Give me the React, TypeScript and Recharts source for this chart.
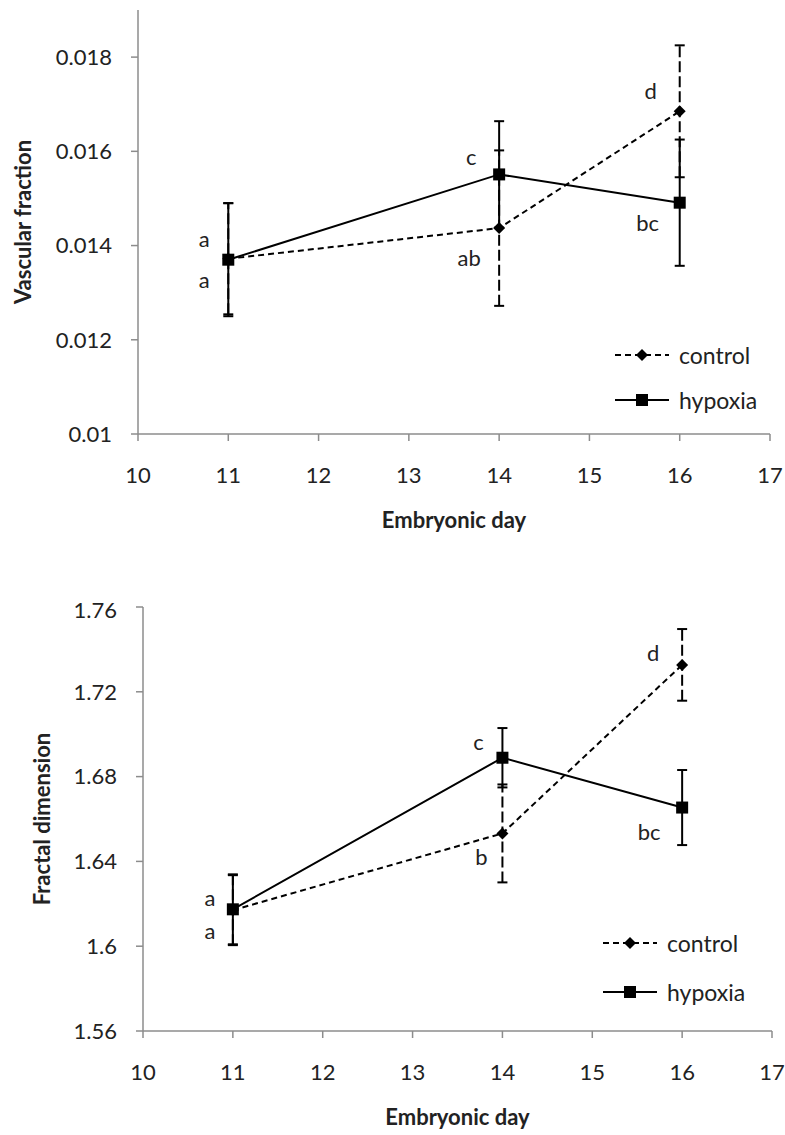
import React from "react";
import { LineChart, Line, XAxis, YAxis, ErrorBar, LabelList, Legend } from "recharts";

const days = [11, 14, 16];
const xTicks = [10, 11, 12, 13, 14, 15, 16, 17];

// vascular fraction
const vfControl = [0.01372, 0.01437, 0.01685];
const vfControlErr = [0.00118, 0.00165, 0.0014];
const vfHypoxia = [0.0137, 0.01551, 0.01491];
const vfHypoxiaErr = [0.0012, 0.00113, 0.00134];
const vfControlLetters = ["a", "ab", "d"];
const vfHypoxiaLetters = ["a", "c", "bc"];
const vfTicks = [0.01, 0.012, 0.014, 0.016, 0.018];

// fractal dimension
const fdControl = [1.617, 1.6532, 1.7327];
const fdControlErr = [0.0165, 0.0231, 0.0169];
const fdHypoxia = [1.6174, 1.6889, 1.6654];
const fdHypoxiaErr = [0.0165, 0.014, 0.0177];
const fdControlLetters = ["a", "b", "d"];
const fdHypoxiaLetters = ["a", "c", "bc"];
const fdTicks = [1.56, 1.6, 1.64, 1.68, 1.72, 1.76];

const FONT = "Lato, 'Noto Sans', sans-serif";
const TEXT = "#222";
const AXIS = "#8c8c8c";

const buildRows = (c, ce, cl, h, he, hl) =>
  days.map((day, i) => ({
    day,
    control: c[i],
    controlErr: ce[i],
    controlLetter: cl[i],
    hypoxia: h[i],
    hypoxiaErr: he[i],
    hypoxiaLetter: hl[i],
  }));

const vfRows = buildRows(vfControl, vfControlErr, vfControlLetters, vfHypoxia, vfHypoxiaErr, vfHypoxiaLetters);
const fdRows = buildRows(fdControl, fdControlErr, fdControlLetters, fdHypoxia, fdHypoxiaErr, fdHypoxiaLetters);

const Diamond = (props) => {
  const { cx, cy } = props;
  if (cx == null || cy == null) return null;
  return <polygon points={`${cx},${cy - 6} ${cx + 6},${cy} ${cx},${cy + 6} ${cx - 6},${cy}`} fill="#000" />;
};

const Square = (props) => {
  const { cx, cy } = props;
  if (cx == null || cy == null) return null;
  return <rect x={cx - 6} y={cy - 6} width={12} height={12} fill="#000" />;
};

// letter offsets from the point, in px
const letterAt = (offsets) => (props) => {
  const { x, y, value, index } = props;
  const [dx, dy] = offsets[index] || [0, 0];
  return (
    <text x={x + dx} y={y + dy} textAnchor="middle" dominantBaseline="central" fill={TEXT} fontSize={22} fontFamily={FONT}>
      {value}
    </text>
  );
};

const LegendBox = ({ gap }) => (
  <div style={{ fontFamily: FONT, fontSize: 23, color: TEXT }}>
    {[
      { name: "control", dashed: true },
      { name: "hypoxia", dashed: false },
    ].map((it, i) => (
      <div key={it.name} style={{ display: "flex", alignItems: "center", height: 26, marginTop: i ? gap - 26 : 0 }}>
        <svg width={54} height={16}>
          <line x1={0} y1={8} x2={54} y2={8} stroke="#000" strokeWidth={2} strokeDasharray={it.dashed ? "6 4" : undefined} />
          {it.dashed ? (
            <polygon points="27,2 33,8 27,14 21,8" fill="#000" />
          ) : (
            <rect x={21} y={2} width={12} height={12} fill="#000" />
          )}
        </svg>
        <span style={{ marginLeft: 10 }}>{it.name}</span>
      </div>
    ))}
  </div>
);

function Panel({ rows, yTicks, domain, left, right, yTitle, yTitleX, legendLeft, legendTop, legendGap, cOff, hOff }) {
  const plotLeft = left + 68;
  const plotRight = 785 - right;
  return (
    <div style={{ position: "relative", width: 785, height: 538 }}>
      <LineChart width={785} height={538} data={rows} margin={{ top: 10, right, left, bottom: 0 }}>
        <XAxis
          dataKey="day"
          type="number"
          domain={[10, 17]}
          ticks={xTicks}
          height={104}
          tickSize={7}
          tickMargin={26}
          tick={{ fill: TEXT, fontSize: 22, fontFamily: FONT }}
          tickLine={{ stroke: AXIS, strokeWidth: 1.5 }}
          axisLine={{ stroke: AXIS, strokeWidth: 1.5 }}
        />
        <YAxis
          type="number"
          domain={domain}
          ticks={yTicks}
          width={68}
          tickSize={7}
          tickMargin={19}
          allowDataOverflow
          tick={{ fill: TEXT, fontSize: 22, fontFamily: FONT }}
          tickLine={{ stroke: AXIS, strokeWidth: 1.5 }}
          axisLine={{ stroke: AXIS, strokeWidth: 1.5 }}
        />
        <Line
          dataKey="control"
          stroke="#000"
          strokeWidth={2}
          strokeDasharray="6 4"
          dot={<Diamond />}
          activeDot={false}
          isAnimationActive={false}
        >
          <ErrorBar dataKey="controlErr" width={5} stroke="#000" strokeWidth={2} strokeDasharray="11 4" isAnimationActive={false} />
          <LabelList dataKey="controlLetter" content={letterAt(cOff)} />
        </Line>
        <Line
          dataKey="hypoxia"
          stroke="#000"
          strokeWidth={2}
          dot={<Square />}
          activeDot={false}
          isAnimationActive={false}
        >
          <ErrorBar dataKey="hypoxiaErr" width={5} stroke="#000" strokeWidth={2} isAnimationActive={false} />
          <LabelList dataKey="hypoxiaLetter" content={letterAt(hOff)} />
        </Line>
        <Legend
          layout="vertical"
          verticalAlign="middle"
          align="center"
          content={() => <LegendBox gap={legendGap} />}
          wrapperStyle={{ left: legendLeft, top: legendTop, width: 180 }}
        />
      </LineChart>
      <div
        style={{
          position: "absolute",
          left: yTitleX,
          top: 10 + 212,
          transform: "translate(-50%, -50%) rotate(-90deg)",
          fontFamily: FONT,
          fontWeight: 700,
          fontSize: 22,
          color: TEXT,
          whiteSpace: "nowrap",
        }}
      >
        {yTitle}
      </div>
      <div
        style={{
          position: "absolute",
          left: (plotLeft + plotRight) / 2,
          top: 519,
          transform: "translate(-50%, -50%)",
          fontFamily: FONT,
          fontWeight: 700,
          fontSize: 22,
          color: TEXT,
          whiteSpace: "nowrap",
        }}
      >
        Embryonic day
      </div>
    </div>
  );
}

export default function App() {
  return (
    <div style={{ position: "absolute", left: 0, top: 0, width: 785, height: 1135, background: "#fff" }}>
      <Panel
        rows={vfRows}
        yTicks={vfTicks}
        domain={[0.01, 0.019]}
        left={70}
        right={15}
        yTitle="Vascular fraction"
        yTitleX={22}
        legendLeft={615}
        legendTop={342}
        legendGap={45}
        cOff={[[-24, 21], [-30, 29], [-29, -21]]}
        hOff={[[-24, -21], [-28, -18], [-32, 20]]}
      />
      <div style={{ position: "absolute", left: 0, top: 597 }}>
        <Panel
          rows={fdRows}
          yTicks={fdTicks}
          domain={[1.56, 1.76]}
          left={75}
          right={13}
          yTitle="Fractal dimension"
          yTitleX={41}
          legendLeft={603}
          legendTop={333}
          legendGap={49}
          cOff={[[-23, 20], [-21, 23], [-29, -12]]}
          hOff={[[-23, -12], [-24, -16], [-33, 24]]}
        />
      </div>
    </div>
  );
}
